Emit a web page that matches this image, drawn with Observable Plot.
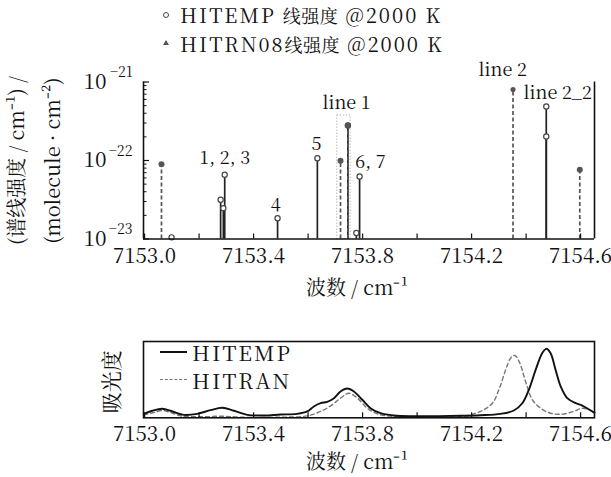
<!DOCTYPE html>
<html><head><meta charset="utf-8">
<script src="https://cdn.jsdelivr.net/npm/d3@7"></script>
<script src="https://cdn.jsdelivr.net/npm/@observablehq/plot@0.6"></script>
<style>
body{margin:0;background:#fff;}
#wrap{position:relative;width:611px;height:477px;overflow:hidden;font-family:"Noto Serif CJK SC",serif;color:#111;background:#fff;}
#top,#bot{position:absolute;left:0;}
#top{top:0}
#bot{top:300px}
.leg{position:absolute;font-size:20px;white-space:nowrap;line-height:22px;letter-spacing:2px;}
.cjk{font-size:18px;letter-spacing:0.5px;}
.leg2{position:absolute;font-size:21px;white-space:nowrap;line-height:22px;letter-spacing:2px;}
.mk{position:absolute;}
.sample{position:absolute;width:27px;height:0;}
</style></head>
<body>
<div id="wrap">
  <div id="top"></div>
  <div id="bot"></div>
  <div class="mk" style="left:163px;top:12px;width:4px;height:4px;border:1px solid #444;border-radius:50%;"></div>
  <div class="leg" style="left:180px;top:4px;">HITEMP <span class="cjk">线强度</span> @2000 K</div>
  <div class="mk" style="left:163px;top:40px;width:0;height:0;border-left:3px solid transparent;border-right:3px solid transparent;border-bottom:5px solid #555;"></div>
  <div class="leg" style="left:180px;top:33px;">HITRN08<span class="cjk">线强度</span> @2000 K</div>
  <div class="sample" style="left:160px;top:351px;border-top:2px solid #111;"></div>
  <div class="leg2" style="left:192px;top:341px;">HITEMP</div>
  <div class="sample" style="left:160px;top:379px;border-top:1.5px dashed #777;"></div>
  <div class="leg2" style="left:192px;top:369px;">HITRAN</div>
</div>
<script>
const FONT = '"Noto Serif CJK SC", serif';

// ---- top panel: line strengths ----
const hitempWn = [7153.099, 7153.279, 7153.289, 7153.294, 7153.488, 7153.634, 7153.746, 7153.777, 7153.789, 7154.474, 7154.474];
const hitempS  = [1.05e-23, 3.16e-23, 2.47e-23, 6.58e-23, 1.84e-23, 1.07e-22, 2.79e-22, 1.19e-23, 6.25e-23, 4.88e-22, 2.02e-22];
const hitranWn = [7153.062, 7153.719, 7153.746, 7154.352, 7154.597];
const hitranS  = [8.97e-23, 9.9e-23, 2.79e-22, 8.02e-22, 7.62e-23];
const hitranR  = [2.8, 2.8, 2.8, 2.0, 2.8];

const annoLabels = ["1, 2, 3", "4", "5", "line 1", "6, 7", "line 2", "line 2_2"];
const annoWn = [7153.294, 7153.481, 7153.631, 7153.741, 7153.829, 7154.314, 7154.516];
const annoS  = [1.06e-22, 2.67e-23, 1.60e-22, 5.32e-22, 9.44e-23, 1.40e-21, 7.14e-22];

const line1BoxWn = [7153.707, 7153.756];
const line1BoxS  = [1e-23, 3.74e-22];

const xDomain = [7152.996, 7154.651];
const xTicks = [7153.0, 7153.2, 7153.4, 7153.6, 7153.8, 7154.0, 7154.2, 7154.4, 7154.6];
const xLabels = [7153.0, 7153.4, 7153.8, 7154.2, 7154.6];
const yMajor = [1e-23, 1e-22, 1e-21];
const yExpLabels = ["\u221223", "\u221222", "\u221221"];
const yMinor = [2e-23,3e-23,4e-23,5e-23,6e-23,7e-23,8e-23,9e-23,2e-22,3e-22,4e-22,5e-22,6e-22,7e-22,8e-22,9e-22];

const yTitle1 = "(谱线强度 / cm\u207B\u00B9) /";
const yTitle2 = "(molecule \u00B7 cm\u207B\u00B2)";
const xTitle = "波数 / cm\u207B\u00B9";

// ---- bottom panel: absorbance spectra ----
const tempWn = [7152.997,7153.028,7153.065,7153.102,7153.144,7153.193,7153.242,7153.285,7153.328,7153.377,7153.438,7153.499,7153.560,7153.597,7153.621,7153.646,7153.670,7153.695,7153.719,7153.744,7153.768,7153.799,7153.829,7153.866,7153.915,7153.988,7154.080,7154.160,7154.233,7154.306,7154.355,7154.386,7154.410,7154.435,7154.459,7154.474,7154.490,7154.508,7154.527,7154.551,7154.582,7154.606,7154.637,7154.651];
const tempA  = [0.052,0.092,0.118,0.083,0.039,0.052,0.100,0.131,0.092,0.039,0.030,0.043,0.052,0.083,0.148,0.191,0.210,0.257,0.345,0.384,0.345,0.236,0.126,0.060,0.030,0.021,0.022,0.026,0.034,0.052,0.096,0.191,0.367,0.629,0.847,0.904,0.847,0.629,0.410,0.257,0.191,0.161,0.096,0.065];
const tranWn = [7152.997,7153.034,7153.065,7153.095,7153.132,7153.206,7153.285,7153.352,7153.499,7153.597,7153.646,7153.683,7153.719,7153.750,7153.781,7153.817,7153.854,7153.915,7153.988,7154.080,7154.160,7154.233,7154.276,7154.300,7154.325,7154.343,7154.359,7154.377,7154.398,7154.423,7154.453,7154.490,7154.527,7154.575,7154.606,7154.637,7154.651];
const tranA  = [0.039,0.069,0.096,0.069,0.026,0.013,0.021,0.008,0.008,0.026,0.083,0.157,0.257,0.322,0.257,0.126,0.052,0.017,0.013,0.014,0.017,0.083,0.191,0.367,0.629,0.781,0.817,0.716,0.476,0.236,0.126,0.060,0.047,0.083,0.126,0.096,0.060];
const absTitle = "吸光度";

// tables
const hitemp = hitempWn.map((wn, i) => ({wn, s: hitempS[i]}));
const hitran = hitranWn.map((wn, i) => ({wn, s: hitranS[i], r: hitranR[i]}));
const anno = annoLabels.map((label, i) => ({label, wn: annoWn[i], s: annoS[i]}));
const tempSpec = tempWn.map((wn, i) => ({wn, a: tempA[i]}));
const tranSpec = tranWn.map((wn, i) => ({wn, a: tranA[i]}));

const W = 611, mL = 143, mR = 17;
const frameW = W - mL - mR;

const topH = 300, topMT = 81.5, topMB = 61.5;
const topFrameH = topH - topMT - topMB;

const topPlot = Plot.plot({
  width: W, height: topH,
  marginLeft: mL, marginRight: mR, marginTop: topMT, marginBottom: topMB,
  x: {domain: xDomain, axis: null},
  y: {type: "log", domain: [1e-23, 1e-21], axis: null},
  style: {fontFamily: FONT, fontSize: "21px", color: "#111", background: "white", overflow: "visible"},
  marks: [
    Plot.rect([0], {x1: () => line1BoxWn[0], x2: () => line1BoxWn[1], y1: () => line1BoxS[0], y2: () => line1BoxS[1], fill: "none", stroke: "#999", strokeWidth: 1, strokeDasharray: "1,2"}),
    Plot.ruleX(hitemp, {x: "wn", y1: () => 1e-23, y2: "s", stroke: "#222", strokeWidth: 1.7}),
    Plot.ruleX(hitran, {x: "wn", y1: () => 1e-23, y2: "s", stroke: "#555", strokeWidth: 1.7, strokeDasharray: "4,2.5"}),
    Plot.dot(hitemp, {x: "wn", y: "s", r: 2.6, fill: "white", stroke: "#444", strokeWidth: 1.2}),
    Plot.dot(hitran, {x: "wn", y: "s", r: "r", fill: "#555", stroke: "none"}),
    Plot.ruleX([xDomain[0]], {stroke: "#111", strokeWidth: 1.6}),
    Plot.ruleX([xDomain[1]], {stroke: "#111", strokeWidth: 1.6}),
    Plot.ruleY([1e-23], {stroke: "#111", strokeWidth: 1.6}),
    Plot.tickY(yMajor, {y: d => d, insetRight: frameW - 6, stroke: "#111", strokeWidth: 1.2}),
    Plot.tickY(yMinor, {y: d => d, insetRight: frameW - 3.5, stroke: "#111", strokeWidth: 1}),
    Plot.tickX(xTicks, {x: d => d, insetTop: topFrameH - 5, stroke: "#111", strokeWidth: 1.2}),
    Plot.axisX({ticks: xLabels, tickSize: 0, tickPadding: 9, tickFormat: d => d.toFixed(1), fontSize: 20.5, label: null}),
    Plot.text(yMajor, {y: d => d, frameAnchor: "left", dx: -37, textAnchor: "end", lineAnchor: "middle", text: () => "10", fontSize: 21}),
    Plot.text(yMajor, {y: d => d, frameAnchor: "left", dx: -11, dy: -9, textAnchor: "end", lineAnchor: "middle", text: (d, i) => yExpLabels[i], fontSize: 14}),
    Plot.text(anno, {x: "wn", y: "s", text: "label", fontSize: 18}),
    Plot.text([yTitle1], {frameAnchor: "left", dx: -126, rotate: -90, textAnchor: "middle", lineAnchor: "middle", text: d => d, fontSize: 20}),
    Plot.text([yTitle2], {frameAnchor: "left", dx: -90, rotate: -90, textAnchor: "middle", lineAnchor: "middle", text: d => d, fontSize: 20}),
    Plot.text([xTitle], {frameAnchor: "bottom", dx: -12, dy: 50, textAnchor: "middle", lineAnchor: "middle", text: d => d, fontSize: 20})
  ]
});
document.getElementById("top").appendChild(topPlot);

const botH = 177, botMT = 41, botMB = 59.7;
const botFrameH = botH - botMT - botMB;

const botPlot = Plot.plot({
  width: W, height: botH,
  marginLeft: mL, marginRight: mR, marginTop: botMT, marginBottom: botMB,
  x: {domain: xDomain, axis: null},
  y: {domain: [0, 1], axis: null},
  style: {fontFamily: FONT, fontSize: "21px", color: "#111", background: "white", overflow: "visible"},
  marks: [
    Plot.line(tranSpec, {x: "wn", y: "a", stroke: "#777", strokeWidth: 1.4, strokeDasharray: "4,3", curve: "catmull-rom"}),
    Plot.line(tempSpec, {x: "wn", y: "a", stroke: "#111", strokeWidth: 1.9, curve: "catmull-rom"}),
    Plot.frame({stroke: "#111", strokeWidth: 1.6}),
    Plot.tickX(xTicks, {x: d => d, insetTop: botFrameH - 5, stroke: "#111", strokeWidth: 1.2}),
    Plot.axisX({ticks: xLabels, tickSize: 0, tickPadding: 9, tickFormat: d => d.toFixed(1), fontSize: 20.5, label: null}),
    Plot.text([absTitle], {frameAnchor: "left", dx: -31, dy: 2, rotate: -90, textAnchor: "middle", lineAnchor: "middle", text: d => d, fontSize: 21}),
    Plot.text([xTitle], {frameAnchor: "bottom", dx: -12, dy: 45, textAnchor: "middle", lineAnchor: "middle", text: d => d, fontSize: 20})
  ]
});
document.getElementById("bot").appendChild(botPlot);
</script>
</body></html>
